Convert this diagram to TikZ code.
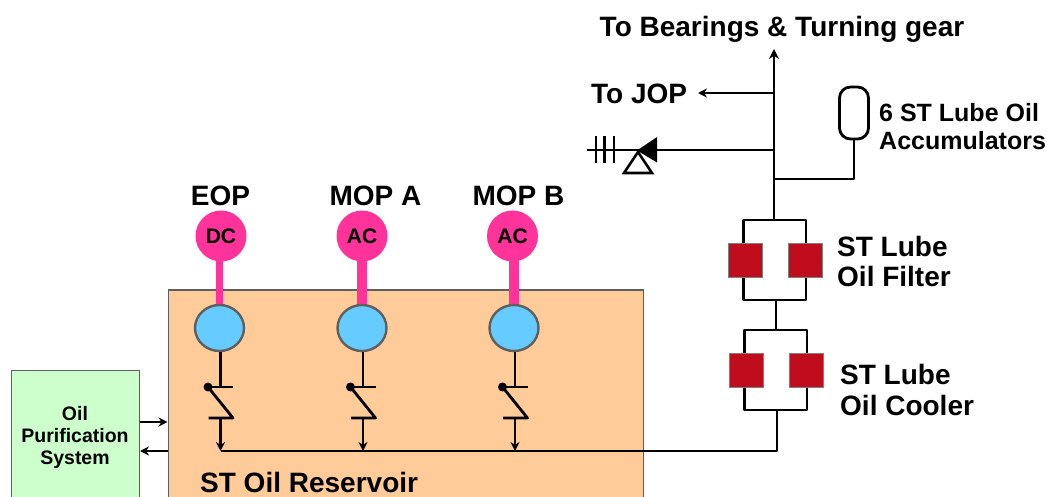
\documentclass[tikz,border=0pt]{standalone}
\usepackage{fontspec}
\setmainfont{Liberation Sans}
\usetikzlibrary{arrows.meta,shapes.geometric}
\definecolor{resv}{HTML}{FFCC99}
\definecolor{purif}{HTML}{CCFFCC}
\definecolor{pinkm}{HTML}{FF3399}
\definecolor{bluep}{HTML}{66CCFF}
\definecolor{redb}{HTML}{C00D1E}
\definecolor{edgeg}{HTML}{5F5F5F}
\tikzset{
  x=1pt,y=-1pt,
  pipe/.style={draw=black,line width=2.8pt},
  flow/.style={pipe,-{Stealth[length=9pt,width=9pt]}},
  lbl/.style={font=\bfseries\fontsize{#1}{#1}\selectfont,inner sep=0pt,text=black,align=left},
  lbl/.default=28,
  tank/.style={draw=edgeg,line width=1.5pt,inner sep=0pt},
  motor/.style={circle,fill=pinkm,minimum width=51pt,inner sep=0pt,font=\bfseries\fontsize{21}{21}\selectfont},
  pump/.style={ellipse,draw=edgeg,line width=2.4pt,fill=bluep,minimum width=49pt,minimum height=46pt,inner sep=0pt},
  filt/.style={rectangle,draw=gray,line width=.6pt,fill=redb,minimum width=34pt,minimum height=34pt,inner sep=0pt},
  shaft/.style={draw=pinkm},
  dotj/.style={circle,fill=black,minimum size=9pt,inner sep=0pt},
}
\begin{document}
\begin{tikzpicture}
\useasboundingbox (0,0) rectangle (1047,497);
% tanks (run off the lower edge of the picture)
\begin{scope}
\clip (0,0) rectangle (1047,497);
\node[tank,fill=resv,minimum width=475pt,minimum height=240pt,anchor=north west] (res) at (167.5,289) {};
\node[tank,fill=purif,minimum width=128pt,minimum height=160pt,anchor=north west] (pur) at (10.5,369.5) {};
\end{scope}
\node[align=center,inner sep=0pt,font=\bfseries\fontsize{19.5}{22}\selectfont] (purt) at (75,437) {Oil\\Purification\\System};
\node[lbl=28,anchor=west] (rest) at (200,482.5) {ST Oil Reservoir};
% purification arrows
\coordinate (pi1) at (pur.north east |- 0,422);
\coordinate (ri1) at (res.north west |- 0,422);
\coordinate (pi2) at (pur.north east |- 0,451);
\coordinate (ri2) at (res.north west |- 0,451);
\draw[flow] (pi1) -- (ri1);
\draw[flow] (ri2) -- (pi2);
% motors, shafts, pumps
\foreach \n/\xm/\xp/\t/\sw in {a/221/219.5/DC/7,b/362/362/AC/10,c/512.5/514/AC/10}{
  \draw[shaft,line width=\sw pt] (\xp,240) -- (\xp,310);
  \node[motor] (m\n) at (\xm,236) {\t};
  \node[pump] (p\n) at (\xp,328) {};
  % check valve
  \coordinate (top\n) at (\xp+1,387);
  \coordinate (bot\n) at (\xp+1,418);
  \coordinate (jn\n) at (\xp+1,451);
  \node[dotj] (d\n) at (\xp-11.5,387) {};
  \draw[pipe] (p\n.south -| top\n) -- (top\n);
  \draw[pipe] (d\n.center) -- (\xp+13.5,387);
  \draw[pipe,line join=round] (d\n.center) -- (\xp+13.5,418) -- (\xp-11,418);
  \draw[flow] (bot\n) -- (jn\n);
}
\node[lbl=28] (teop) at (220.5,196) {EOP};
\node[lbl=28] (tma) at (375.5,196) {MOP A};
\node[lbl=28] (tmb) at (518.5,196) {MOP B};
% filter & cooler banks
\coordinate (ftl) at (743.5,220); \coordinate (ftr) at (806,220);
\coordinate (fbl) at (743.5,300); \coordinate (fbr) at (806,300);
\coordinate (ctl) at (744.5,330); \coordinate (ctr) at (807,330);
\coordinate (cbl) at (744.5,410); \coordinate (cbr) at (807,410);
\node[filt] (f1) at (745.5,260.5) {};
\node[filt] (f2) at (805.5,260.5) {};
\node[filt] (c1) at (746,370.5) {};
\node[filt] (c2) at (806.5,370.5) {};
\draw[pipe,line join=round] (f1.north -| ftl) -- (ftl) -- (ftr) -- (f2.north -| ftr);
\draw[pipe,line join=round] (f1.south -| fbl) -- (fbl) -- (fbr) -- (f2.south -| fbr);
\draw[pipe,line join=round] (c1.north -| ctl) -- (ctl) -- (ctr) -- (c2.north -| ctr);
\draw[pipe,line join=round] (c1.south -| cbl) -- (cbl) -- (cbr) -- (c2.south -| cbr);
\coordinate (flink) at (776,300); \coordinate (clink) at (776,330);
\draw[pipe] (flink) -- (clink);
% return header
\coordinate (cout) at (777,410);
\draw[pipe,line join=round] (cout) -- (777,451) -- (jna);
% main riser
\coordinate (rb) at (774,220);
\coordinate (rt) at (774,49);
\draw[pipe,-{Stealth[length=10pt,width=10pt]}] (rb) -- (rt);
% JOP branch
\coordinate (jb) at (774,93);
\coordinate (je) at (698,93);
\draw[flow] (jb) -- (je);
% accumulators
\node[draw=black,line width=2.8pt,rounded corners=11pt,minimum width=29pt,minimum height=52pt,inner sep=0pt] (acc) at (854,113) {};
\coordinate (ab) at (774,179);
\draw[pipe,line join=round] (acc.south) -- (acc.south |- ab) -- (ab);
% relief valve
\coordinate (vb) at (774,150);
\coordinate (vend) at (587,150);
\draw[pipe] (vb) -- (vend);
\fill[black] (637,150.5) -- (657,137) -- (657,162.5) -- cycle;
\draw[black,line width=2.6pt,line join=miter] (638,152) -- (652,173) -- (624,173) -- cycle;
\foreach \xx in {596,604.5,614}{\draw[black,line width=2.8pt] (\xx,136) -- (\xx,163);}
% labels
\node[lbl=28] (tb) at (782,29.5) {To Bearings \& Turning gear};
\node[lbl=28,anchor=west] (tj) at (591,94) {To JOP};
\node[anchor=west,inner sep=0pt,align=left,font=\bfseries\fontsize{25}{28}\selectfont] (ta) at (879,127) {6 ST Lube Oil\\Accumulators};
\node[anchor=west,inner sep=0pt,align=left,font=\bfseries\fontsize{28}{30}\selectfont] (tf) at (837,261) {ST Lube\\Oil Filter};
\node[anchor=west,inner sep=0pt,align=left,font=\bfseries\fontsize{28}{31}\selectfont] (tc) at (840,389.5) {ST Lube\\Oil Cooler};
\end{tikzpicture}
\end{document}
